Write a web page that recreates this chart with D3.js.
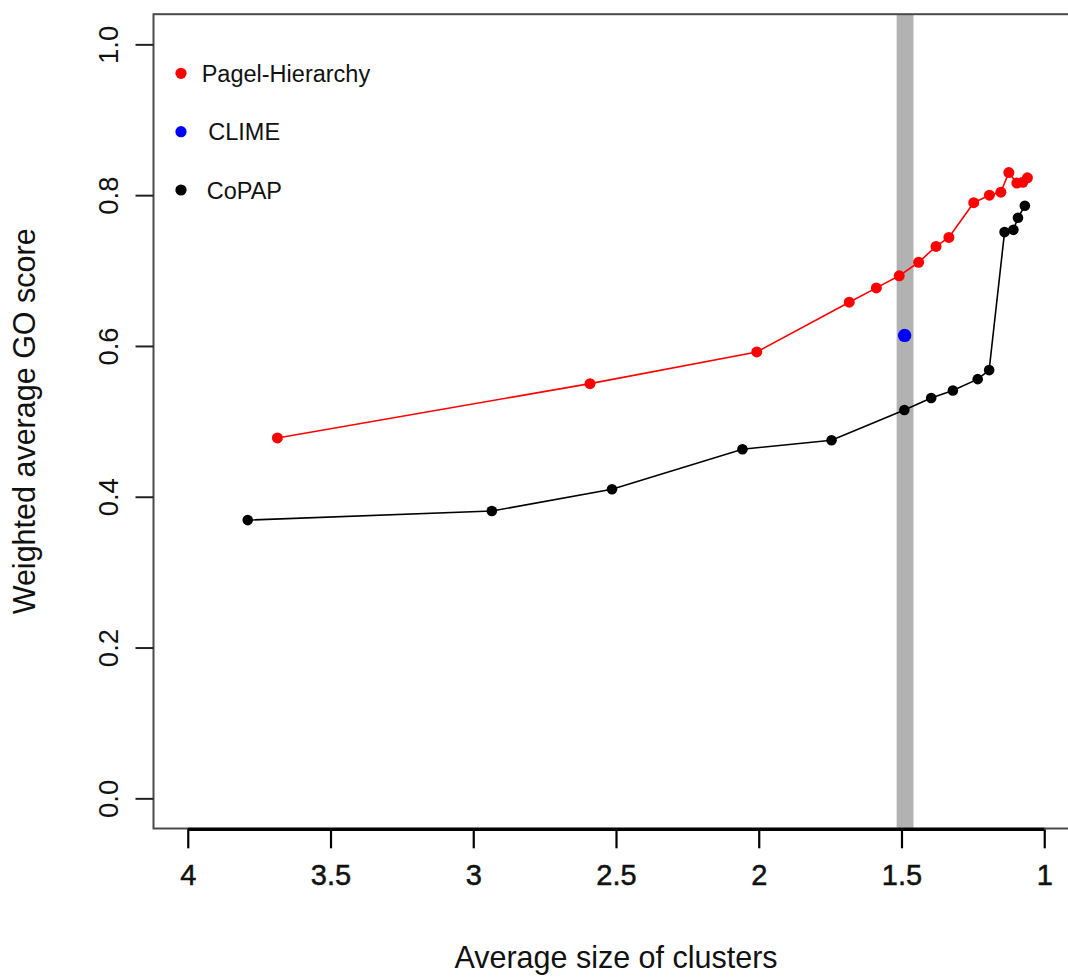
<!DOCTYPE html>
<html>
<head>
<meta charset="utf-8">
<script src="https://cdn.jsdelivr.net/npm/d3@7"></script>
<style>
  html, body { margin: 0; padding: 0; background: #fff; }
  svg text { font-family: "Liberation Sans", Arial, Helvetica, sans-serif; fill: #111; }
</style>
</head>
<body>
<div id="chart"></div>
<script>
// values
const pagelSize  = [3.686, 2.591, 2.007, 1.683, 1.588, 1.508, 1.440, 1.379, 1.334, 1.247, 1.192, 1.152, 1.124, 1.096, 1.075, 1.059];
const pagelScore = [0.478, 0.550, 0.592, 0.658, 0.677, 0.693, 0.711, 0.732, 0.744, 0.790, 0.800, 0.804, 0.830, 0.816, 0.817, 0.823];
const copapSize  = [3.790, 2.935, 2.514, 2.057, 1.745, 1.490, 1.396, 1.320, 1.233, 1.193, 1.139, 1.108, 1.092, 1.068];
const copapScore = [0.369, 0.381, 0.410, 0.463, 0.475, 0.515, 0.531, 0.541, 0.556, 0.568, 0.751, 0.754, 0.770, 0.786];
const climeSize  = [1.489];
const climeScore = [0.614];
const bandRange  = [1.458, 1.517];
const xTicks = [4, 3.5, 3, 2.5, 2, 1.5, 1];
const yTicks = [0, 0.2, 0.4, 0.6, 0.8, 1.0];
const legendNames = ['Pagel-Hierarchy', 'CLIME', 'CoPAP'];
const legendColors = ['#ff0000', '#0000ff', '#000000'];

const width = 1068, height = 977;
const box = { left: 153.5, right: 1078.5, top: 14.2, bottom: 828.5 };

const svg = d3.select('#chart').append('svg')
  .attr('width', width).attr('height', height)
  .attr('viewBox', `0 0 ${width} ${height}`);

// R-style 4% padding around xlim = c(4, 1), ylim = c(0, 1)
const x = d3.scaleLinear().domain([4.12, 0.88]).range([box.left, box.right]);
const y = d3.scaleLinear().domain([-0.04, 1.04]).range([box.bottom, box.top]);

// grey band
svg.append('rect')
  .attr('x', x(bandRange[1])).attr('y', box.top)
  .attr('width', x(bandRange[0]) - x(bandRange[1]))
  .attr('height', box.bottom - box.top)
  .attr('fill', '#b2b2b2');

// plot box
svg.append('rect')
  .attr('x', box.left).attr('y', box.top)
  .attr('width', box.right - box.left).attr('height', box.bottom - box.top)
  .attr('fill', 'none').attr('stroke', '#4a4a4a').attr('stroke-width', 2);

// x axis
const xAxis = svg.append('g').attr('transform', `translate(0,${box.bottom + 0.8})`)
  .call(d3.axisBottom(x).tickValues(xTicks).tickSize(19).tickPadding(37).tickFormat(d3.format('')));
xAxis.select('.domain').remove();
xAxis.selectAll('.tick line').attr('stroke', '#000').attr('stroke-width', 2.2);
xAxis.selectAll('.tick text')
  .attr('font-size', 29).attr('fill', '#111').attr('dy', 0)
  .attr('stroke', '#111').attr('stroke-width', 0.5);
xAxis.append('line')
  .attr('x1', x(xTicks[0])).attr('x2', x(xTicks[xTicks.length - 1]))
  .attr('stroke', '#000').attr('stroke-width', 3.2);

// y axis
const yAxis = svg.append('g').attr('transform', `translate(${box.left},0)`)
  .call(d3.axisLeft(y).tickValues(yTicks).tickSize(18).tickFormat(d3.format('.1f')));
yAxis.select('.domain').remove();
yAxis.selectAll('.tick line').attr('stroke', '#222').attr('stroke-width', 2);
yAxis.selectAll('.tick text')
  .attr('font-size', 27.5).attr('fill', '#111')
  .attr('x', null).attr('dy', null)
  .attr('text-anchor', 'middle')
  .attr('transform', 'translate(-46,0) rotate(-90)')
  .attr('y', 10);

// axis titles
svg.append('text')
  .attr('x', (box.left + box.right) / 2).attr('y', 968)
  .attr('text-anchor', 'middle').attr('font-size', 30.5)
  .text('Average size of clusters');
svg.append('text')
  .attr('transform', `translate(35,${(box.top + box.bottom) / 2}) rotate(-90)`)
  .attr('text-anchor', 'middle').attr('font-size', 30.5)
  .text('Weighted average GO score');

// series
const line = d3.line().x(d => x(d[0])).y(d => y(d[1]));
const series = [
  { pts: d3.zip(pagelSize, pagelScore), color: legendColors[0], r: 5.5, line: true },
  { pts: d3.zip(copapSize, copapScore), color: legendColors[2], r: 5.3, line: true },
  { pts: d3.zip(climeSize, climeScore), color: legendColors[1], r: 6.7, line: false }
];

series.forEach(s => {
  const g = svg.append('g');
  if (s.line) {
    g.append('path').datum(s.pts)
      .attr('d', line).attr('fill', 'none')
      .attr('stroke', s.color).attr('stroke-width', 1.6);
  }
  g.selectAll('circle').data(s.pts).join('circle')
    .attr('cx', d => x(d[0])).attr('cy', d => y(d[1]))
    .attr('r', s.r).attr('fill', s.color);
});

// legend
const legendY = [73.3, 131.7, 190];
const legendTextX = [201.7, 208.3, 206.7];
const legend = svg.append('g');
legendNames.forEach((name, i) => {
  legend.append('circle')
    .attr('cx', 181).attr('cy', legendY[i]).attr('r', 5.6)
    .attr('fill', legendColors[i]);
  legend.append('text')
    .attr('x', legendTextX[i]).attr('y', legendY[i] + 8.5)
    .attr('font-size', 23.5)
    .text(name);
});
</script>
</body>
</html>
